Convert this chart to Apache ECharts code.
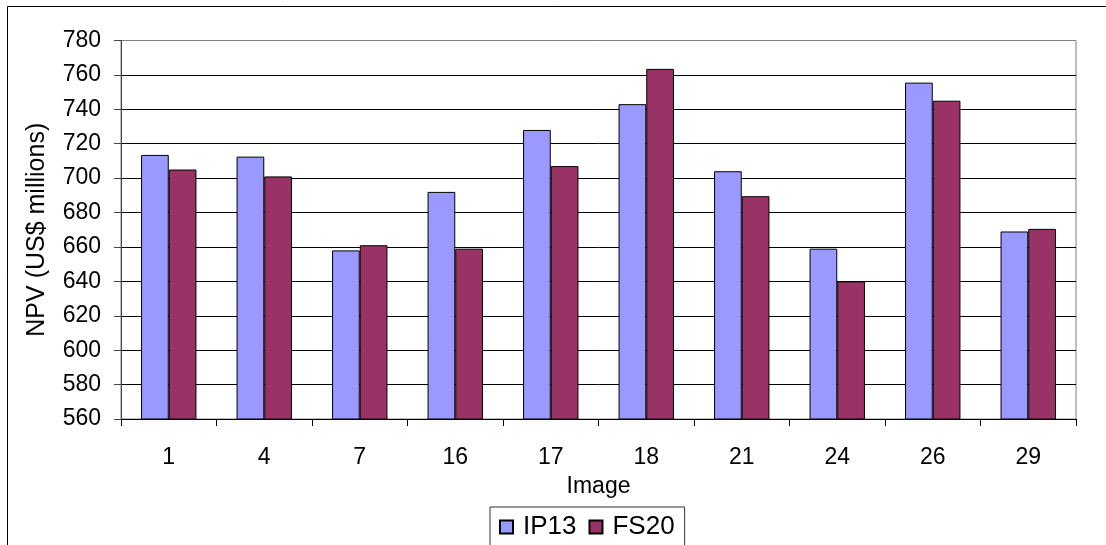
<!DOCTYPE html>
<html>
<head>
<meta charset="utf-8">
<script src="https://cdn.jsdelivr.net/npm/echarts@6/dist/echarts.min.js"></script>
<style>
  html, body { margin: 0; padding: 0; background: #fff; }
  #chart { width: 1106px; height: 545px; }
</style>
</head>
<body>
<div id="chart"></div>
<script>
const categories = ['1', '4', '7', '16', '17', '18', '21', '24', '26', '29'];
const ip13 = [713.5, 712.5, 658, 692, 728, 743, 704, 659, 755.5, 669];
const fs20 = [705, 701, 661, 659, 707, 763.5, 689.5, 640, 745, 670.5];
const seriesNames = ['IP13', 'FS20'];
const yMin = 560, yMax = 780, yStep = 20;

const FONT = '"Liberation Sans", Arial, sans-serif';
const gridColors = [];
for (let v = yMin; v <= yMax; v += yStep) gridColors.push(v === yMax ? '#808080' : '#000000');

const chart = echarts.init(document.getElementById('chart'), null, { renderer: 'canvas' });
chart.setOption({
  animation: false,
  backgroundColor: '#ffffff',
  textStyle: { fontFamily: FONT },
  graphic: [{
    type: 'rect',
    shape: { x: 7.5, y: 6.5, width: 1200, height: 700 },
    style: { fill: 'none', stroke: '#000', lineWidth: 1 },
    silent: true,
    z: -10
  }],
  grid: {
    left: 121, right: 30, top: 40.5, bottom: 126,
    show: true, backgroundColor: '#fff', borderColor: '#808080', borderWidth: 1
  },
  legend: {
    left: 490, top: 507,
    data: seriesNames,
    icon: 'rect',
    itemWidth: 13, itemHeight: 13, itemGap: 12,
    padding: [7, 10, 30, 9],
    borderColor: '#333', borderWidth: 1,
    backgroundColor: '#fff',
    textStyle: { fontSize: 26, color: '#000', fontFamily: FONT, lineHeight: 26, padding: [0, 0, 0, 5] }
  },
  xAxis: {
    type: 'category',
    data: categories,
    name: 'Image',
    nameLocation: 'middle',
    nameGap: 56,
    nameTextStyle: { fontSize: 23, color: '#000', fontFamily: FONT },
    axisLine: { show: true, lineStyle: { color: '#000', width: 1 } },
    axisTick: { show: true, inside: false, length: 7, lineStyle: { color: '#000' } },
    axisLabel: { fontSize: 23, color: '#000', margin: 27, fontFamily: FONT },
    splitLine: { show: false }
  },
  yAxis: {
    type: 'value',
    min: yMin, max: yMax, interval: yStep,
    name: 'NPV (US$ millions)',
    nameLocation: 'middle',
    nameGap: 71,
    nameRotate: 90,
    nameTextStyle: { fontSize: 25, color: '#000', fontFamily: FONT },
    axisLine: { show: true, lineStyle: { color: '#444', width: 1 } },
    axisTick: { show: true, inside: false, length: 7, lineStyle: { color: '#444' } },
    axisLabel: { fontSize: 23, color: '#000', margin: 20, fontFamily: FONT },
    splitLine: { show: true, lineStyle: { color: gridColors, width: 1 } }
  },
  series: [
    {
      name: seriesNames[0], type: 'bar', data: ip13,
      barGap: '0%', barCategoryGap: '42%',
      itemStyle: { color: '#9999FF', borderColor: '#000', borderWidth: 1 }
    },
    {
      name: seriesNames[1], type: 'bar', data: fs20,
      barGap: '0%', barCategoryGap: '42%',
      itemStyle: { color: '#993366', borderColor: '#000', borderWidth: 1 }
    }
  ]
});
</script>
</body>
</html>
